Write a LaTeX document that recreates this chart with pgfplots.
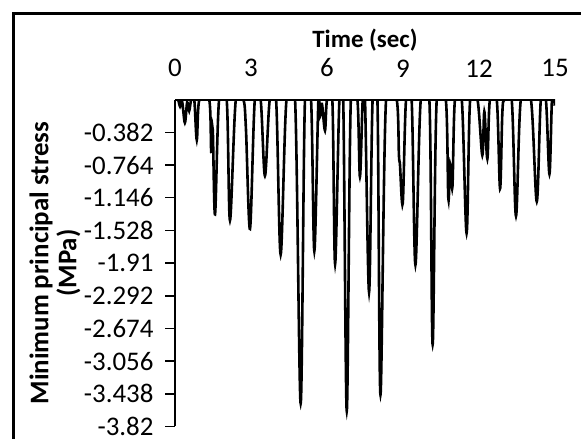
\documentclass[border=0pt]{standalone}
\usepackage{fontspec}
\setmainfont{Carlito}
\usepackage{pgfplots}
\pgfplotsset{compat=1.18}
\pgfplotstableread{
t v
0 0
0.12 0
0.2 -0.08
0.28 -0.02
0.39 -0.27
0.48 -0.03
0.56 -0.13
0.64 0
0.76 0
0.86 -0.47
0.96 0
1.35 0
1.43 -0.61
1.49 -0.35
1.58 -1.34
1.74 0
2.04 0
2.17 -1.41
2.40 0
2.70 0
2.80 -0.34
2.96 -1.51
3.15 0
3.38 0
3.55 -0.89
3.74 0
3.99 0
4.17 -1.81
4.40 0
4.74 0
4.96 -3.55
5.13 0
5.37 0
5.50 -1.77
5.66 0
5.72 -0.20
5.80 -0.05
5.92 -0.36
6.00 0
6.21 0
6.32 -1.92
6.49 0
6.64 0
6.78 -3.64
6.94 0
7.20 0
7.30 -0.90
7.41 0
7.50 0
7.66 -2.25
7.80 0
7.99 0
8.11 -3.45
8.33 0
8.75 0
8.84 -0.65
8.88 -0.76
8.99 -1.21
9.12 0
9.34 0
9.49 -1.93
9.70 0
10.04 0
10.17 -2.86
10.33 0
10.69 0
10.79 -1.16
10.86 -0.75
10.95 -1.02
11.05 0
11.32 0
11.51 -1.56
11.65 0
11.94 0
12.13 -0.65
12.21 -0.14
12.33 -0.69
12.43 0
12.70 0
12.83 -1.04
12.92 -0.16
13.00 0
13.29 0
13.46 -1.36
13.65 0
14.05 0
14.28 -1.19
14.44 0
14.64 0
14.78 -0.87
14.88 0
14.97 0
15 -0.07
}\stress
\begin{document}
\begin{tikzpicture}[x=1bp,y=1bp]
\useasboundingbox (0,0) rectangle (581,439);
\draw[line width=2.7bp] (13.3,426.6) -- (13.3,-20);
\draw[line width=2.7bp] (12,425.3) -- (600,425.3);
\begin{axis}[
  at={(175bp,12.5bp)}, anchor=south west,
  scale only axis, width=380bp, height=326.8bp,
  xmin=0, xmax=15, ymin=-3.82, ymax=0,
  axis x line=top, axis y line=left,
  axis line style={-, line width=1.8bp, black},
  xtick={0,3,6,9,12,15}, xticklabels={0,3,6,9,12,15},
  ytick={-0.382,-0.764,-1.146,-1.528,-1.91,-2.292,-2.674,-3.056,-3.438,-3.82},
  yticklabels={-0.382,-0.764,-1.146,-1.528,-1.91,-2.292,-2.674,-3.056,-3.438,-3.82},
  x tick style={draw=none},
  y tick style={line width=1.5bp, black},
  tick align=outside, major tick length=10bp,
  ticklabel style={font=\fontsize{27}{32}\selectfont},
  xticklabel style={yshift=9bp},
  yticklabel style={xshift=-8bp},
  xlabel={Time (sec)},
  xlabel style={font=\bfseries\fontsize{25}{30}\selectfont, at={(axis description cs:0.5,1.183)}, anchor=center},
  ylabel={Minimum principal stress\\(MPa)},
  ylabel style={font=\bfseries\fontsize{27}{28}\selectfont, align=center, at={(axis description cs:-0.316,0.5)}, anchor=center},
]
\addplot[black, line width=2.6bp, smooth, tension=0.55] table[x=t,y=v] {\stress};
\end{axis}
\end{tikzpicture}
\end{document}
